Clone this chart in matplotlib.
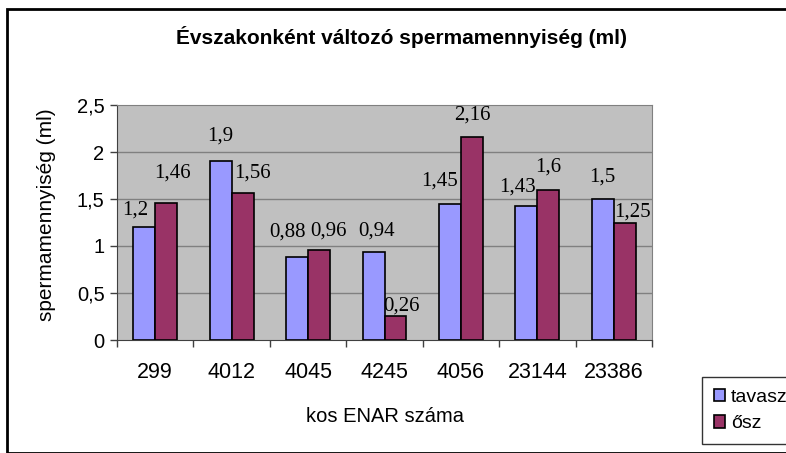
import matplotlib
matplotlib.use('Agg')
import matplotlib.pyplot as plt
from matplotlib.patches import Rectangle
import numpy as np

# Ram IDs and semen volume per season (ml)
rams = ['299', '4012', '4045', '4245', '4056', '23144', '23386']
spring = [1.2, 1.9, 0.88, 0.94, 1.45, 1.43, 1.5]
autumn = [1.46, 1.56, 0.96, 0.26, 2.16, 1.6, 1.25]
series_names = ['tavasz', 'ősz']
y_ticks = [0, 0.5, 1, 1.5, 2, 2.5]

# label nudges in pixels (dx, gap above bar top)
spring_nudge = [(-9, 13), (0, 21), (-10, 21), (3, 16), (-10, 18), (-9, 14), (-1, 17)]
autumn_nudge = [(6, 25), (10, 16), (9, 14), (6, 5), (1, 17), (0, 18), (8, 6)]

W, H = 786, 453
fig = plt.figure(figsize=(W / 100, H / 100), dpi=100)

sans = ['Liberation Sans', 'DejaVu Sans']
serif = ['Liberation Serif', 'DejaVu Serif']

# plot area in pixels
left, right, top, bottom = 117, 652, 105, 340
ax = fig.add_axes([left / W, 1 - bottom / H, (right - left) / W, (bottom - top) / H])
ax.set_facecolor('#C0C0C0')

x = np.arange(len(rams))
bw = 0.286
blue = '#9999FF'
plum = '#993366'
b1 = ax.bar(x - bw / 2, spring, bw, color=blue, edgecolor='black', linewidth=1.2,
            label=series_names[0], zorder=3)
b2 = ax.bar(x + bw / 2, autumn, bw, color=plum, edgecolor='black', linewidth=1.2,
            label=series_names[1], zorder=3)

ax.set_xlim(-0.5, len(rams) - 0.5)
ax.set_ylim(0, 2.5)

# gridlines
for v in y_ticks[1:-1]:
    ax.axhline(v, color='#808080', linewidth=1, zorder=1)

for s in ['top', 'right']:
    ax.spines[s].set_color('#808080')
ax.spines['left'].set_color('#404040')
ax.spines['bottom'].set_color('#404040')


def fmt(v):
    return ('%g' % v).replace('.', ',')


ax.set_yticks(y_ticks)
ax.set_yticklabels([fmt(v) for v in y_ticks], fontfamily=sans, fontsize=14.5)
ax.tick_params(axis='y', direction='out', length=5, width=1, color='#404040', pad=4)

# category boundary ticks, labels at category centres
ax.set_xticks(np.arange(len(rams) + 1) - 0.5)
ax.set_xticklabels([])
ax.tick_params(axis='x', which='major', direction='out', length=5, width=1, color='#404040')
ax.set_xticks(x, minor=True)
ax.set_xticklabels(rams, minor=True, fontfamily=sans, fontsize=15.5)
ax.tick_params(axis='x', which='minor', length=0, pad=16)

for bars, vals, nudges in [(b1, spring, spring_nudge), (b2, autumn, autumn_nudge)]:
    for bar, v, (dx, gap) in zip(bars, vals, nudges):
        ax.annotate(fmt(v), (bar.get_x() + bar.get_width() / 2, v),
                    xytext=(dx * 0.72, gap * 0.72), textcoords='offset points',
                    ha='center', va='baseline', fontfamily=serif, fontsize=15,
                    zorder=4, annotation_clip=False)

# titles and axis labels
fig.text(401 / W, 1 - 37 / H, 'Évszakonként változó spermamennyiség (ml)',
         ha='center', va='center', fontfamily=sans, fontsize=15, fontweight='bold')
fig.text(47 / W, 1 - 215 / H, 'spermamennyiség (ml)', rotation=90,
         ha='center', va='center', fontfamily=sans, fontsize=15)
fig.text(385 / W, 1 - 416 / H, 'kos ENAR száma',
         ha='center', va='center', fontfamily=sans, fontsize=14.5)

leg = fig.legend(handles=[b1, b2], labels=series_names, loc='upper left',
                 bbox_to_anchor=(702 / W, 1 - 377 / H), frameon=True, fancybox=False,
                 edgecolor='black', prop={'family': sans, 'size': 14},
                 handlelength=0.6, handleheight=0.6, handletextpad=0.3,
                 labelspacing=0.5, borderpad=0.6, borderaxespad=0)
leg.get_frame().set_linewidth(1)

# outer chart border
fig.patches.append(Rectangle((7 / W, 0), 1, 1 - 9 / H, transform=fig.transFigure,
                             fill=False, edgecolor='black', linewidth=2, clip_on=False))

fig.savefig('out.png', dpi=100)
